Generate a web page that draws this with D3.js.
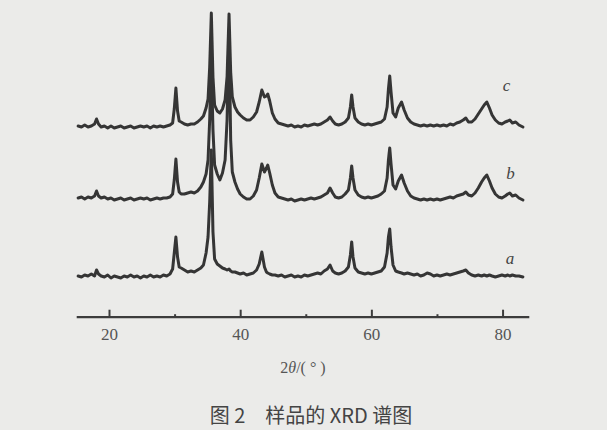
<!DOCTYPE html>
<html>
<head>
<meta charset="utf-8">
<script src="https://cdn.jsdelivr.net/npm/d3@7"></script>
<style>
  html, body { margin: 0; padding: 0; background: #ebebe9; }
  svg { display: block; }
</style>
</head>
<body>
<div id="chart"></div>
<script>
// ---- data ----
const twoTheta = [
  15.3, 15.8, 16.3, 16.8, 17.3, 17.8,
  18.1, 18.4,
  18.8, 19.3, 19.8, 20.3, 20.8, 21.3, 21.8, 22.3, 22.8, 23.3, 23.8, 24.3, 24.8, 25.3, 25.8, 26.3, 26.8, 27.3, 27.8, 28.3, 28.8, 29.3,
  29.7, 29.95, 30.2, 30.45, 30.7, 31.0,
  31.5, 32.0, 32.5, 33.0, 33.5, 34.0,
  34.4, 34.8, 35.1, 35.35, 35.6, 35.85, 36.1, 36.5, 36.9, 37.3, 37.7, 38.0, 38.3, 38.55, 38.8, 39.2, 39.6, 40.0,
  40.5, 41.0, 41.5, 42.0, 42.5, 42.9, 43.3, 43.7, 44.0, 44.2, 44.5, 44.9, 45.3,
  45.8, 46.3, 46.8, 47.3, 47.8, 48.3, 48.8, 49.3, 49.8, 50.3, 50.8, 51.3, 51.8, 52.3, 52.8, 53.3,
  53.7, 54.1, 54.5, 55.0, 55.5, 56.0, 56.5, 56.8, 57.0, 57.2, 57.5, 58.0,
  58.5, 59.0, 59.5, 60.0, 60.5, 61.0, 61.5, 62.0, 62.4, 62.6, 62.8, 63.0, 63.3, 63.7, 64.1, 64.6, 65.0, 65.5, 66.0,
  66.5, 67.0, 67.5, 68.0, 68.5, 69.0, 69.5, 70.0, 70.5, 71.0, 71.5, 72.0, 72.5, 73.0, 73.5, 74.0, 74.4, 74.8, 75.3, 75.8,
  76.3, 76.8, 77.2, 77.6, 78.0, 78.4, 78.9, 79.4, 79.9, 80.4, 80.8, 81.1, 81.5, 82.0, 82.5, 83.1
];

const intensityA = [
  1, 0, 2, 1, 3, 1,
  7, 3,
  1, 0, 2, -1, 1, 0, -1, 1, 0, 2, 0, 1, -1, 1, 0, 2, 0, 1, 0, 2, 1, 3,
  8, 24, 40, 20, 10, 9,
  7, 5, 6, 5, 7, 9,
  12, 24, 40, 75, 127, 45, 18, 13, 11, 9, 8, 7, 8, 6, 5, 5, 4, 3,
  4, 2, 3, 4, 7, 13, 25, 10, 5, 4, 3, 2, 2,
  1, 2, 0, 1, 2, 0, 1, 0, 2, 1, 2, 3, 4, 3, 6, 8,
  12, 6, 4, 3, 4, 6, 10, 22, 35, 20, 9, 5,
  4, 3, 4, 3, 4, 5, 6, 10, 24, 40, 48, 30, 12, 6, 5, 4, 3, 4, 3,
  2, 3, 1, 2, 4, 3, 1, 2, 1, 2, 3, 2, 3, 4, 5, 6, 7, 4, 2, 1,
  2, 1, 2, 1, 2, 1, 0, 1, 2, 1, 2, 1, 2, 1, 1, 0
];

const intensityB = [
  2, 3, 1, 3, 2, 4,
  9, 4,
  2, 3, 1, 2, 0, 1, 2, 0, 1, 2, 0, 1, 2, 1, 2, 0, 1, 2, 1, 2, 2, 3,
  6, 20, 41, 18, 8, 6,
  6, 7, 8, 7, 9, 13,
  18, 26, 40, 80, 140, 70, 35, 26, 20, 27, 40, 80, 170, 60, 28, 18, 11, 6,
  3, 1, 1, 4, 10, 22, 36, 28, 32, 35, 27, 15, 7,
  3, 2, 1, 0, 1, -1, 0, 1, 0, 1, 2, 1, 2, 3, 5, 7,
  12, 7, 3, 2, 3, 6, 10, 22, 34, 22, 10, 5,
  3, 2, 3, 2, 3, 4, 6, 9, 22, 40, 52, 36, 15, 11, 19, 25, 17, 9, 4,
  2, 1, 0, 1, 0, 1, 0, 1, 0, 1, 2, 3, 2, 4, 5, 6, 8, 5, 4, 7,
  12, 18, 22, 25, 19, 12, 6, 3, 2, 4, 6, 7, 4, 5, 2, 0
];

const intensityC = [
  1, 0, 2, 0, 1, 3,
  8, 3,
  0, 1, -1, 1, -1, 0, 1, -1, 0, 1, -1, 0, 1, 0, 1, -1, 1, 0, 1, 0, 1, 2,
  4, 18, 39, 16, 6, 5,
  3, 2, 3, 3, 5, 8,
  11, 19, 28, 60, 114, 50, 22, 16, 14, 18, 27, 50, 113, 55, 30, 20, 15, 12,
  9, 7, 7, 10, 15, 25, 37, 30, 31, 33, 26, 14, 8,
  4, 3, 2, 1, 2, 0, 1, 0, 2, 1, 2, 3, 2, 3, 5, 7,
  10, 6, 3, 2, 3, 5, 9, 20, 32, 20, 9, 5,
  3, 2, 3, 2, 3, 4, 5, 8, 20, 38, 51, 35, 14, 10, 19, 25, 17, 9, 5,
  3, 2, 1, 2, 1, 2, 1, 2, 1, 2, 1, 3, 2, 4, 5, 7, 9, 5, 5, 8,
  13, 18, 22, 25, 19, 12, 7, 4, 3, 5, 6, 7, 4, 5, 2, 0
];

const seriesNames = ["a", "b", "c"];
const seriesOffsets = [0, 77, 150];        // vertical stacking offset (a.u.)
const majorTicks = [20, 40, 60, 80];
const minorTicks = [30, 50, 70];
const caption = "图 2　样品的 XRD 谱图";

// ---- layout ----
const W = 607, H = 430;
const svg = d3.select("#chart").append("svg").attr("width", W).attr("height", H);
svg.append("rect").attr("width", W).attr("height", H).attr("fill", "#ebebe9");

const defs = svg.append("defs");
defs.append("filter").attr("id", "soft")
  .append("feGaussianBlur").attr("stdDeviation", 0.4);

const x = d3.scaleLinear().domain([15, 84]).range([76.2, 528.8]);
const y = d3.scaleLinear().domain([0, 300]).range([277, -23]);
const axisY = 316.7;

const allSeries = [intensityA, intensityB, intensityC];
const line = d3.line().x(d => x(d[0])).y(d => y(d[1])).curve(d3.curveLinear);

const traces = svg.append("g").attr("filter", "url(#soft)");
allSeries.forEach((vals, i) => {
  const pts = twoTheta.map((t, k) => [t, vals[k] + seriesOffsets[i]]);
  traces.append("path")
    .datum(pts)
    .attr("d", line)
    .attr("fill", "none")
    .attr("stroke", "#363636")
    .attr("stroke-width", 3)
    .attr("stroke-linejoin", "round")
    .attr("stroke-linecap", "round");
});

// series labels
const labelPos = [[510, 258], [510.5, 173], [506.5, 85]];
seriesNames.forEach((n, i) => {
  svg.append("text")
    .attr("x", labelPos[i][0]).attr("y", labelPos[i][1])
    .attr("dy", "0.35em")
    .attr("text-anchor", "middle")
    .attr("font-family", "Liberation Serif, serif")
    .attr("font-style", "italic")
    .attr("font-size", 17)
    .attr("fill", "#444")
    .text(n);
});

// axis
const axisG = svg.append("g").attr("transform", `translate(0,${axisY})`)
  .call(d3.axisBottom(x).tickValues(majorTicks).tickSize(-7).tickSizeOuter(0).tickPadding(11)
        .tickFormat(d3.format("d")));
axisG.select(".domain").attr("stroke", "#3c3c3c").attr("stroke-width", 2.2);
axisG.selectAll(".tick line").attr("stroke", "#3c3c3c").attr("stroke-width", 2);
axisG.selectAll(".tick text")
  .attr("font-family", "Liberation Serif, serif")
  .attr("font-size", 17)
  .attr("fill", "#555");

const minorG = svg.append("g").attr("transform", `translate(0,${axisY})`)
  .call(d3.axisBottom(x).tickValues(minorTicks).tickSize(-2.5).tickSizeOuter(0).tickFormat(""));
minorG.select(".domain").remove();
minorG.selectAll(".tick line").attr("stroke", "#3c3c3c").attr("stroke-width", 2);

// x label
const xl = svg.append("text")
  .attr("x", 303).attr("y", 373)
  .attr("text-anchor", "middle")
  .attr("font-family", "Liberation Serif, serif")
  .attr("font-size", 16)
  .attr("fill", "#555");
xl.append("tspan").text("2");
xl.append("tspan").attr("font-style", "italic").text("θ");
xl.append("tspan").text("/( ° )");

// caption
svg.append("text")
  .attr("x", 311).attr("y", 423)
  .attr("text-anchor", "middle")
  .attr("font-family", "Noto Sans CJK SC, sans-serif")
  .attr("font-size", 20)
  .attr("fill", "#444")
  .text(caption);
</script>
</body>
</html>
